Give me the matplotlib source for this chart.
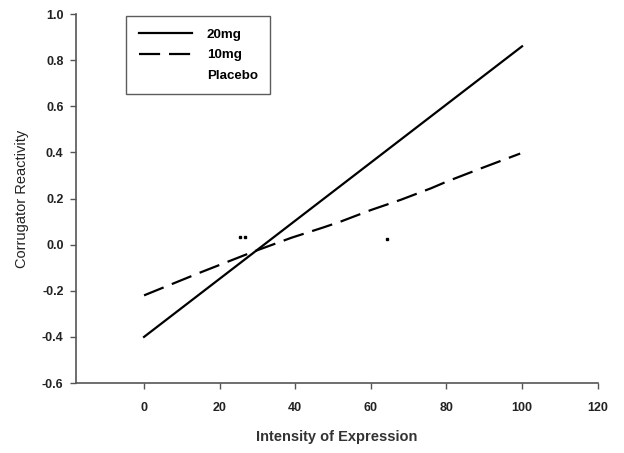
import matplotlib.pyplot as plt

plt.rcParams['font.family'] = ['Liberation Sans', 'DejaVu Sans']

# data
x_20mg = [0, 100]
y_20mg = [-0.40, 0.86]

x_10mg = [0, 15, 29, 39, 47.5, 52, 60, 68, 76, 80, 89, 99.5]
y_10mg = [-0.22, -0.12, -0.03, 0.03, 0.075, 0.10, 0.15, 0.195, 0.245, 0.273, 0.33, 0.395]

# placebo only survives as a few specks in the scan
x_placebo = [25.3, 26.8, 64.3]
y_placebo = [0.035, 0.035, 0.025]

x_ticks = [0, 20, 40, 60, 80, 100, 120]
y_ticks = [-0.6, -0.4, -0.2, 0.0, 0.2, 0.4, 0.6, 0.8, 1.0]
y_ticklabels = ['-0.6', '-0.4', '-0.2', '0.0', '0.2', '0.4', '0.6', '0.8', '1.0']

fig = plt.figure(figsize=(6.24, 4.53), dpi=100)
ax = fig.add_axes([0.1218, 0.1545, 0.836, 0.8145])

ax.plot(x_20mg, y_20mg, color='black', lw=1.6, label='20mg')
ax.plot(x_10mg, y_10mg, color='black', lw=1.6, linestyle=(0, (9.5, 4)), label='10mg')
ax.plot(x_placebo, y_placebo, linestyle='None', marker='s', markersize=1.6,
        color='black', label='Placebo')

ax.set_xlim(-18, 120)
ax.set_ylim(-0.6, 1.0)
ax.set_xticks(x_ticks)
ax.set_yticks(y_ticks)
ax.set_yticklabels(y_ticklabels)

ax.spines["top"].set_visible(False)
ax.spines["right"].set_visible(False)
for s in ["left", "bottom"]:
    ax.spines[s].set_color('#555555')
    ax.spines[s].set_linewidth(1.2)
ax.tick_params(axis='both', direction='out', length=4, width=1, color='#555555',
               labelsize=9)
ax.tick_params(axis='x', pad=10)
ax.tick_params(axis='y', pad=5)
for lab in ax.get_xticklabels() + ax.get_yticklabels():
    lab.set_fontweight('bold')
    lab.set_color('#222222')

ax.set_xlabel('Intensity of Expression', fontsize=10.5, fontweight='bold',
              color='#333333', labelpad=11)
ax.set_ylabel('Corrugator Reactivity', fontsize=10.5, color='#222222', labelpad=9)

leg = ax.legend(loc='upper left', bbox_to_anchor=(0.0958, 0.9946), frameon=True,
                fancybox=False, edgecolor='#333333', handlelength=4.0,
                handletextpad=1.1, labelspacing=0.6, borderpad=0.95,
                borderaxespad=0, prop={'size': 9.6, 'weight': 'bold'})
leg.get_frame().set_linewidth(1.0)
# the placebo key has no visible line in the original
leg.legend_handles[2].set_visible(False)

fig.savefig('out.png', dpi=100)
